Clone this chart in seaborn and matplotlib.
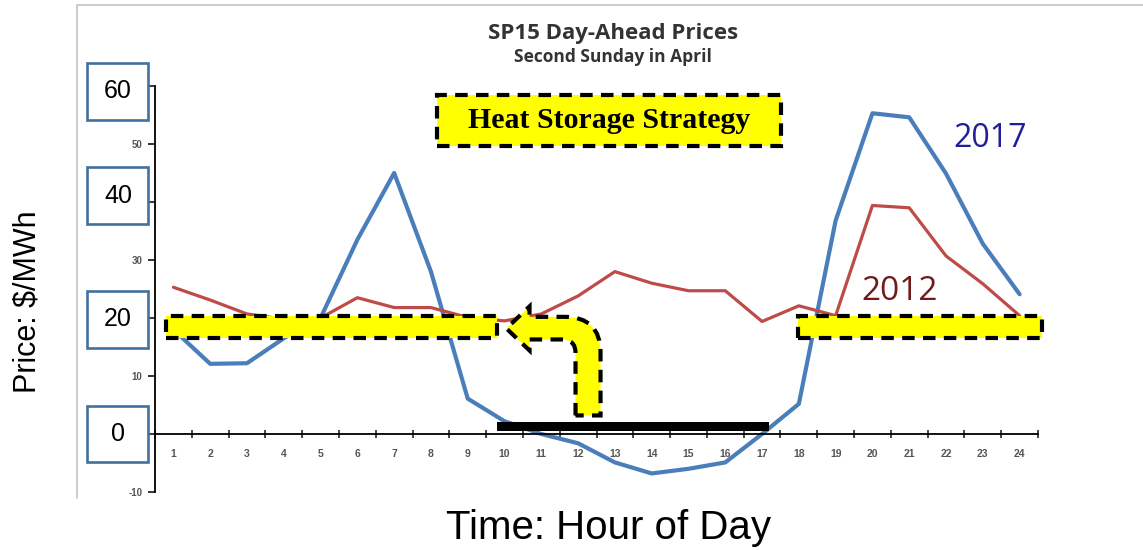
# SP15 day-ahead prices, second Sunday in April
import matplotlib
matplotlib.use('Agg')
import matplotlib.pyplot as plt
import seaborn as sns
from matplotlib.patches import Rectangle, PathPatch
from matplotlib.path import Path
from matplotlib.lines import Line2D

# data
hours = list(range(1, 25))
price_2017 = [18, 12.1, 12.2, 16.5, 20, 33.5, 45, 28, 6.1, 2.2, 0, -1.6,
              -4.9, -6.8, -6, -4.9, 0, 5.2, 36.8, 55.3, 54.6, 44.9, 32.8, 24.1]
price_2012 = [25.3, 23.1, 20.7, 19.8, 20, 23.5, 21.8, 21.8, 20.1, 19.5, 20.7, 23.8,
              28, 26, 24.7, 24.7, 19.4, 22.1, 20.4, 39.4, 39, 30.7, 25.9, 20.4]
y_ticks = [-10, 0, 10, 20, 30, 40, 50, 60]
y_small_labels = ['-10', '', '10', '', '30', '', '50', '']
big_labels = [('60', 59.1), ('40', 41.1), ('20', 19.8), ('0', 0)]

W, H = 1143, 550


def fpx(x, y):
    return x / W, 1 - y / H


sns.set_style('white')
plt.rcParams['font.family'] = ['Liberation Sans', 'DejaVu Sans']
plt.rcParams['text.color'] = 'black'

fig = plt.figure(figsize=(W / 100, H / 100), dpi=100)
ax = fig.add_axes([155 / W, 1 - 492 / H, 883 / W, 406 / H])

# outer light frame
fig.add_artist(Line2D([77 / W, 77 / W, 1], [1 - 498 / H, 1 - 5 / H, 1 - 5 / H],
                      color='#c8c8c8', lw=1.3))

sns.lineplot(x=hours, y=price_2017, color='#4A7EBB', lw=3, ax=ax)
sns.lineplot(x=hours, y=price_2012, color='#BE4B48', lw=2.3, ax=ax)

ax.set_xlim(0.5, 24.5)
ax.set_ylim(-10, 60)
for s in ['top', 'right']:
    ax.spines[s].set_visible(False)
ax.spines['bottom'].set_position(('data', 0))
for s in ['left', 'bottom']:
    ax.spines[s].set_color('black')
    ax.spines[s].set_linewidth(1.3)

ax.set_yticks(y_ticks)
ax.set_yticklabels(y_small_labels)
ax.tick_params(axis='y', direction='out', length=5, width=1.3, left=True,
               labelsize=7, labelcolor='#555555', pad=4)
ax.set_xticks(hours)
ax.set_xticklabels([str(h) for h in hours])
ax.set_xticks([h + 0.5 for h in range(0, 25)], minor=True)
ax.tick_params(axis='x', which='major', length=0, labelsize=7.5,
               labelcolor='#555555', pad=11)
ax.tick_params(axis='x', which='minor', direction='inout', length=6, width=1.2,
               bottom=True)
for lab in ax.get_xticklabels() + ax.get_yticklabels():
    lab.set_fontweight('bold')

# boxed big y labels
ytr = ax.get_yaxis_transform()
for txt, v in big_labels:
    ax.add_patch(Rectangle((-0.0765, v - 4.9), 0.069, 9.8, transform=ytr,
                           fc='white', ec='#41719C', lw=1.9, clip_on=False))
    ax.text(-0.042, v, txt, transform=ytr, ha='center', va='center',
            fontsize=18, color='black')

dash = (0, (3, 2))
# yellow threshold bands
ax.add_patch(Rectangle((0.8, 16.6), 9.0, 3.8, fc='#FFFF00', ec='black',
                       ls=dash, lw=3, zorder=5, clip_on=False))
ax.add_patch(Rectangle((17.97, 16.6), 6.63, 3.8, fc='#FFFF00', ec='black',
                       ls=dash, lw=3, zorder=5, clip_on=False))
# black bar for low-price hours
ax.add_patch(Rectangle((9.8, 0.55), 7.4, 1.5, fc='black', ec='none', zorder=6))

# curved arrow
verts = [(11.93, 3.2), (11.93, 14.0), (11.93, 16.3), (11.55, 16.3),
         (10.68, 16.3), (10.68, 14.4), (10.05, 18.2), (10.68, 22.0),
         (10.68, 20.2), (11.63, 20.2), (12.61, 20.2), (12.61, 14.0),
         (12.61, 3.2), (11.93, 3.2)]
codes = [Path.MOVETO, Path.LINETO, Path.CURVE3, Path.CURVE3,
         Path.LINETO, Path.LINETO, Path.LINETO, Path.LINETO,
         Path.LINETO, Path.LINETO, Path.CURVE3, Path.CURVE3,
         Path.LINETO, Path.CLOSEPOLY]
ax.add_patch(PathPatch(Path(verts, codes), fc='#FFFF00', ec='black', ls=dash,
                       lw=3, zorder=7))

# strategy label
x0, y0 = fpx(437, 146)
fig.add_artist(Rectangle((x0, y0), 344 / W, 51 / H, transform=fig.transFigure,
                         fc='#FFFF00', ec='black', ls=dash, lw=3))
fig.text(*fpx(609, 121), 'Heat Storage Strategy', ha='center', va='center',
         fontsize=21.5, fontweight='bold', family='Liberation Serif')

# series labels
fig.text(*fpx(990, 138), '2017', ha='center', va='center', fontsize=23,
         color='#1F1F9C', family='Open Sans')
fig.text(*fpx(900, 291), '2012', ha='center', va='center', fontsize=24,
         color='#701A1A', family='Open Sans')

# titles
fig.text(*fpx(613, 33), 'SP15 Day-Ahead Prices', ha='center', va='center',
         fontsize=16, fontweight='bold', color='#333333', family='Open Sans')
fig.text(*fpx(613, 57), 'Second Sunday in April', ha='center', va='center',
         fontsize=12.5, fontweight='bold', color='#333333', family='Open Sans')

fig.text(*fpx(28, 302), 'Price: $/MWh', rotation=90, ha='center', va='center',
         fontsize=22)
fig.text(*fpx(608, 528), 'Time: Hour of Day', ha='center', va='center',
         fontsize=29)

fig.savefig('out.png', dpi=100)
